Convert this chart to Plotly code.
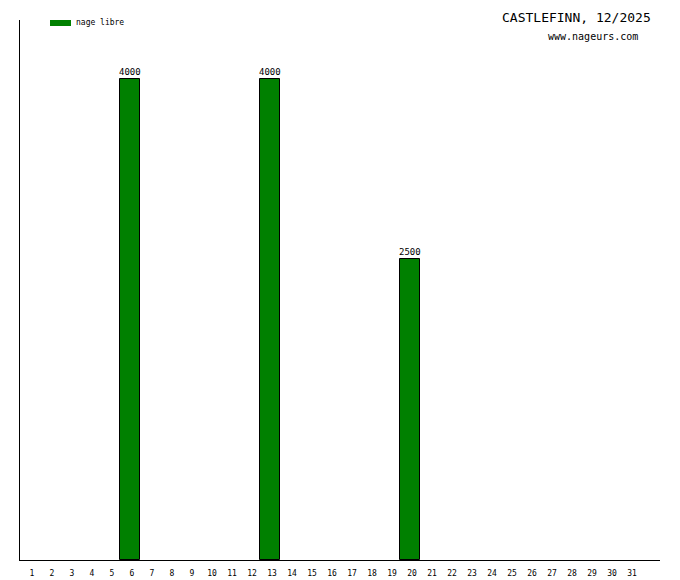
import plotly.graph_objects as go

days = list(range(1, 32))
bar_days = [6, 13, 20]
bar_values = [4000, 4000, 2500]
series_name = "nage libre"
title_text = "CASTLEFINN, 12/2025"
site_text = "www.nageurs.com"

W, H = 680, 580
L, R, T, B = 20, 20, 20, 20
pw, ph = W - L - R, H - T - B

def px(x):
    return (x - L) / pw

def py(y):
    return (H - B - y) / ph

fig = go.Figure()
fig.add_trace(go.Bar(
    x=bar_days, y=bar_values, width=1.0,
    marker=dict(color="#008000", line=dict(color="black", width=1)),
    showlegend=False, hoverinfo="x+y",
))

value_labels = [
    dict(text=str(v), x=d, y=v, xref="x", yref="y", xanchor="center",
         yanchor="bottom", showarrow=False, yshift=0,
         font=dict(family="DejaVu Sans Mono", size=9, color="black"))
    for d, v in zip(bar_days, bar_values)
]

fig.update_layout(
    width=W, height=H,
    margin=dict(l=L, r=R, t=T, b=B, autoexpand=False),
    paper_bgcolor="white", plot_bgcolor="white",
    bargap=0,
    xaxis=dict(range=[0.5, 32.5], tickmode="array", tickvals=days,
               ticktext=[str(d) for d in days], showgrid=False, zeroline=False,
               showline=True, linecolor="black", linewidth=1, ticks="",
               automargin=False, ticklabelstandoff=5, ticklabelshift=2,
               tickfont=dict(family="DejaVu Sans Mono", size=8, color="black")),
    yaxis=dict(range=[0, 4491], showgrid=False, zeroline=False, showticklabels=False,
               showline=True, linecolor="black", linewidth=1, ticks="",
               automargin=False),
    shapes=[dict(type="rect", xref="paper", yref="paper",
                 x0=px(50), x1=px(71), y0=py(26), y1=py(20),
                 fillcolor="#008000", line=dict(width=0))],
    annotations=value_labels + [
        dict(text=series_name, xref="paper", yref="paper", x=px(74), y=py(22.5),
             xanchor="left", yanchor="middle", showarrow=False,
             font=dict(family="DejaVu Sans Mono", size=8, color="black")),
        dict(text=title_text, xref="paper", yref="paper", x=px(653), y=py(18),
             xanchor="right", yanchor="middle", showarrow=False,
             font=dict(family="DejaVu Sans Mono", size=13, color="black")),
        dict(text=site_text, xref="paper", yref="paper", x=px(640), y=py(37),
             xanchor="right", yanchor="middle", showarrow=False,
             font=dict(family="DejaVu Sans Mono", size=10, color="black")),
    ],
)
fig.write_html("out.html", config={"displayModeBar": False},
               post_script="document.body.style.margin='0';document.body.style.overflow='hidden';")
